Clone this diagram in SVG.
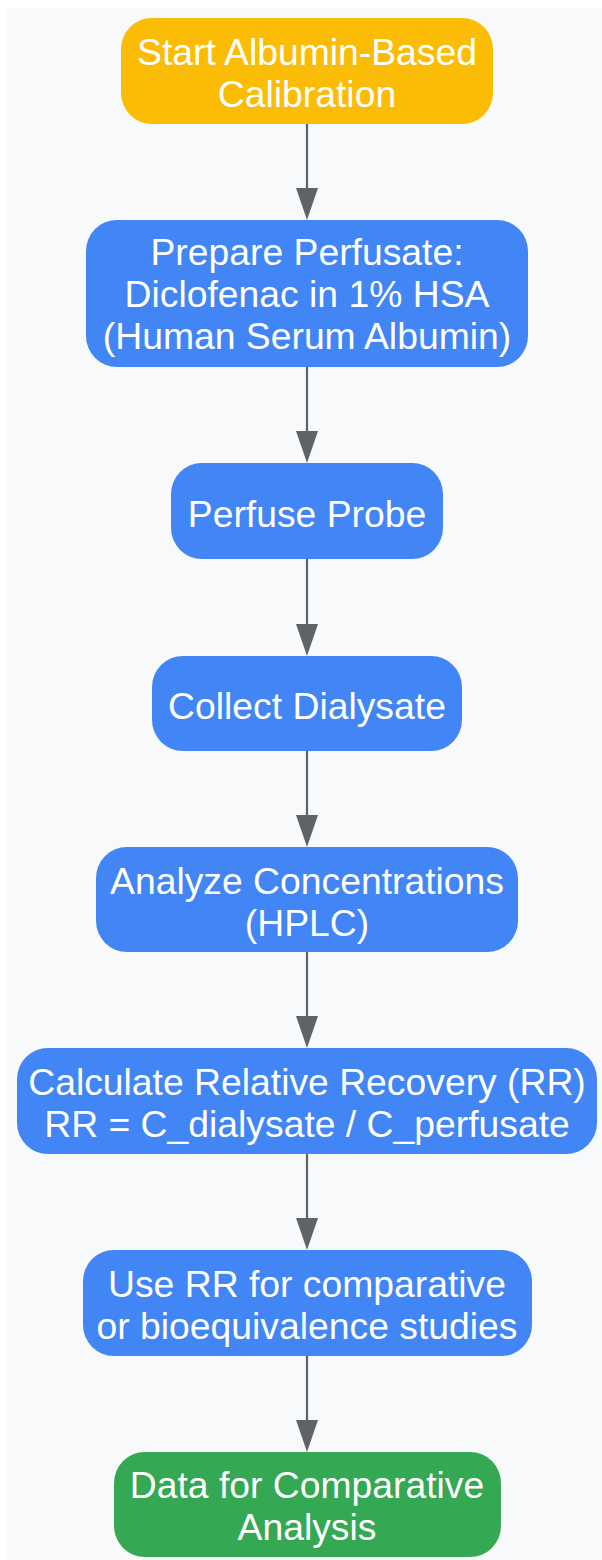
<svg xmlns="http://www.w3.org/2000/svg" width="602" height="1560" viewBox="0 0 602 1560">
<defs>
<style>
.bg{fill:#F8F9FA}
.n rect{stroke:none}
.start rect{fill:#FBBC05}
.step rect{fill:#4285F4}
.end rect{fill:#34A853}
.n text{font-family:"Liberation Sans",Arial,sans-serif;font-size:37.3px;fill:#FFFFFF;text-anchor:middle}
.e line{stroke:#5F6368;stroke-width:2.2}
.e path{fill:#5F6368}
</style>
</defs>
<rect class="bg" x="6" y="8" width="596" height="1552"/>
<g id="connectors" class="e">
<line x1="307" y1="124" x2="307" y2="190"/><path d="M296,188 L318,188 L307,220 Z"/>
<line x1="307" y1="367" x2="307" y2="433"/><path d="M296,431 L318,431 L307,463 Z"/>
<line x1="307" y1="559" x2="307" y2="626"/><path d="M296,624 L318,624 L307,656 Z"/>
<line x1="307" y1="751" x2="307" y2="817"/><path d="M296,815 L318,815 L307,847 Z"/>
<line x1="307" y1="952" x2="307" y2="1018"/><path d="M296,1016 L318,1016 L307,1048 Z"/>
<line x1="307" y1="1154" x2="307" y2="1220"/><path d="M296,1218 L318,1218 L307,1250 Z"/>
<line x1="307" y1="1356" x2="307" y2="1422"/><path d="M296,1420 L318,1420 L307,1452 Z"/>
</g>
<g id="start" class="n start">
<rect x="121" y="18" width="372" height="106" rx="31"/>
<text x="307" y="65">Start Albumin-Based</text>
<text x="307" y="107">Calibration</text>
</g>
<g id="prepare" class="n step">
<rect x="86" y="220" width="442" height="147" rx="31"/>
<text x="307" y="265">Prepare Perfusate:</text>
<text x="307" y="307">Diclofenac in 1% HSA</text>
<text x="307" y="349">(Human Serum Albumin)</text>
</g>
<g id="perfuse" class="n step">
<rect x="171" y="463" width="272" height="96" rx="31"/>
<text x="307" y="527">Perfuse Probe</text>
</g>
<g id="collect" class="n step">
<rect x="152" y="656" width="310" height="95" rx="31"/>
<text x="307" y="719">Collect Dialysate</text>
</g>
<g id="analyze" class="n step">
<rect x="96" y="847" width="422" height="105" rx="31"/>
<text x="307" y="894">Analyze Concentrations</text>
<text x="307" y="936">(HPLC)</text>
</g>
<g id="calculate" class="n step">
<rect x="17" y="1048" width="580" height="106" rx="31"/>
<text x="307" y="1095">Calculate Relative Recovery (RR)</text>
<text x="307" y="1137">RR = C_dialysate / C_perfusate</text>
</g>
<g id="use" class="n step">
<rect x="83" y="1250" width="449" height="106" rx="31"/>
<text x="307" y="1297">Use RR for comparative</text>
<text x="307" y="1339">or bioequivalence studies</text>
</g>
<g id="data" class="n end">
<rect x="114" y="1452" width="387" height="105" rx="31"/>
<text x="307" y="1498">Data for Comparative</text>
<text x="307" y="1540">Analysis</text>
</g>
</svg>
